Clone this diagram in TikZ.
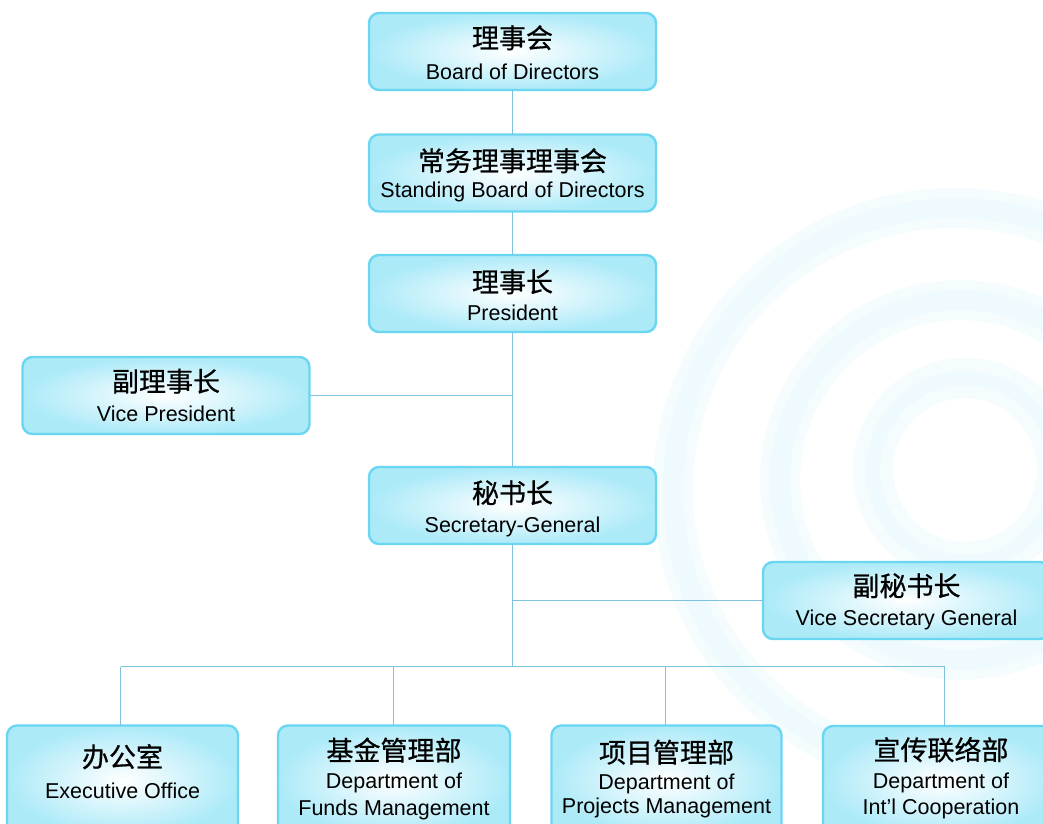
\documentclass[tikz,border=0pt]{standalone}
\usepackage{fontspec}
\setmainfont{Liberation Sans}
\newfontfamily\cjk[FakeBold=0.6]{Noto Sans CJK SC}
\definecolor{lineblue}{HTML}{7FC2DE}
\definecolor{boxedge}{HTML}{6AD6F2}
\definecolor{boxin}{HTML}{FFFFFF}
\definecolor{boxout}{HTML}{ACEAF8}
\definecolor{swirl}{HTML}{EEFAFD}
\definecolor{swirlb}{HTML}{F5FCFE}
\newcommand\zhf{\cjk\fontsize{27}{27}\selectfont}
\newcommand\enf{\fontsize{21.5}{21.5}\selectfont}
\newcommand\zhl[1]{\hbox to 0pt{\hss\smash{\zhf #1}\hss}}
\newcommand\enl[1]{\hbox to 0pt{\hss\smash{\enf #1}\hss}}
% two-line box text: height, zh baseline, zh, en baseline, en
\newcommand\twolines[5]{\vbox to #1pt{\offinterlineskip\kern#2pt\zhl{#3}\kern\dimexpr#4pt-#2pt\relax\enl{#5}\vss}}
% three-line box text
\newcommand\threelines[7]{\vbox to #1pt{\offinterlineskip\kern#2pt\zhl{#3}\kern\dimexpr#4pt-#2pt\relax\enl{#5}\kern\dimexpr#6pt-#4pt\relax\enl{#7}\vss}}
\begin{document}
\begin{tikzpicture}[x=1pt,y=-1pt,
  orgbox/.style={rectangle, rounded corners=10pt, draw=boxedge, line width=2.4pt,
    inner color=boxin, outer color=boxout, inner sep=0pt, outer sep=0pt,
    minimum width=287pt, minimum height=77pt},
  deptbox/.style={orgbox, minimum width=232pt, minimum height=110pt},
  conn/.style={draw=lineblue, line width=1.6pt},
  swirlarc/.style={draw=swirlb, line width=40pt},
  swirlcore/.style={draw=swirl, line width=20pt}]
\useasboundingbox (0,0) rectangle (1043,823);
\clip (0,0) rectangle (1043,823);
\fill[white] (0,0) rectangle (1043,823);
% faint background swirl
\draw[swirlarc] (955,490) circle[radius=282];
\draw[swirlarc] (960,480) circle[radius=180];
\draw[swirlarc] (965,470) circle[radius=92];
\draw[swirlcore] (955,490) circle[radius=282];
\draw[swirlcore] (960,480) circle[radius=180];
\draw[swirlcore, line width=14pt] (965,470) circle[radius=92];

% boxes
\node[orgbox] (bod)  at (512.5,51.5)  {\twolines{77}{35}{理事会}{66}{Board of Directors}};
\node[orgbox] (sbd)  at (512.5,173)   {\twolines{77}{36.5}{常务理事理事会}{63}{Standing Board of Directors}};
\node[orgbox] (pres) at (512.5,293.5) {\twolines{77}{37}{理事长}{65}{President}};
\node[orgbox] (vp)   at (166,395.5)   {\twolines{77}{34.5}{副理事长}{64.5}{Vice President}};
\node[orgbox] (sg)   at (512.5,505.5) {\twolines{77}{36}{秘书长}{65}{Secretary-General}};
\node[orgbox] (vsg)  at (906.5,600.5) {\twolines{77}{34}{副秘书长}{63}{Vice Secretary General}};
\node[deptbox, minimum width=231pt] (eo) at (122.5,780.5) {\twolines{110}{41.5}{办公室}{72.5}{Executive Office}};
\node[deptbox] (fm) at (394,780.5) {\threelines{110}{35}{基金管理部}{63}{Department of}{90}{Funds Management}};
\node[deptbox, minimum width=230pt] (pm) at (666.5,780.5) {\threelines{110}{37}{项目管理部}{64}{Department of}{88}{Projects Management}};
\node[deptbox, minimum width=236pt] (ic) at (941,781) {\threelines{110}{34}{宣传联络部}{62}{Department of}{88}{Int'l Cooperation}};

% bus junctions
\coordinate (j1) at (120.5,666.5);
\coordinate (j2) at (393.5,666.5);
\coordinate (j3) at (665.5,666.5);
\coordinate (j4) at (944.5,666.5);

% connectors
\draw[conn] (bod.south) -- (sbd.north);
\draw[conn] (sbd.south) -- (pres.north);
\draw[conn] (pres.south) -- (sg.north);
\draw[conn] (vp.east) -- (vp.east -| pres.south);
\draw[conn] (sg.south) -- (sg.south |- j1);
\draw[conn] (vsg.west) -- (vsg.west -| sg.south);
\draw[conn] (j1) -- (j4);
\draw[conn] (j1) -- (j1 |- eo.north);
\draw[conn] (j2) -- (j2 |- fm.north);
\draw[conn] (j3) -- (j3 |- pm.north);
\draw[conn] (j4) -- (j4 |- ic.north);
\end{tikzpicture}
\end{document}
